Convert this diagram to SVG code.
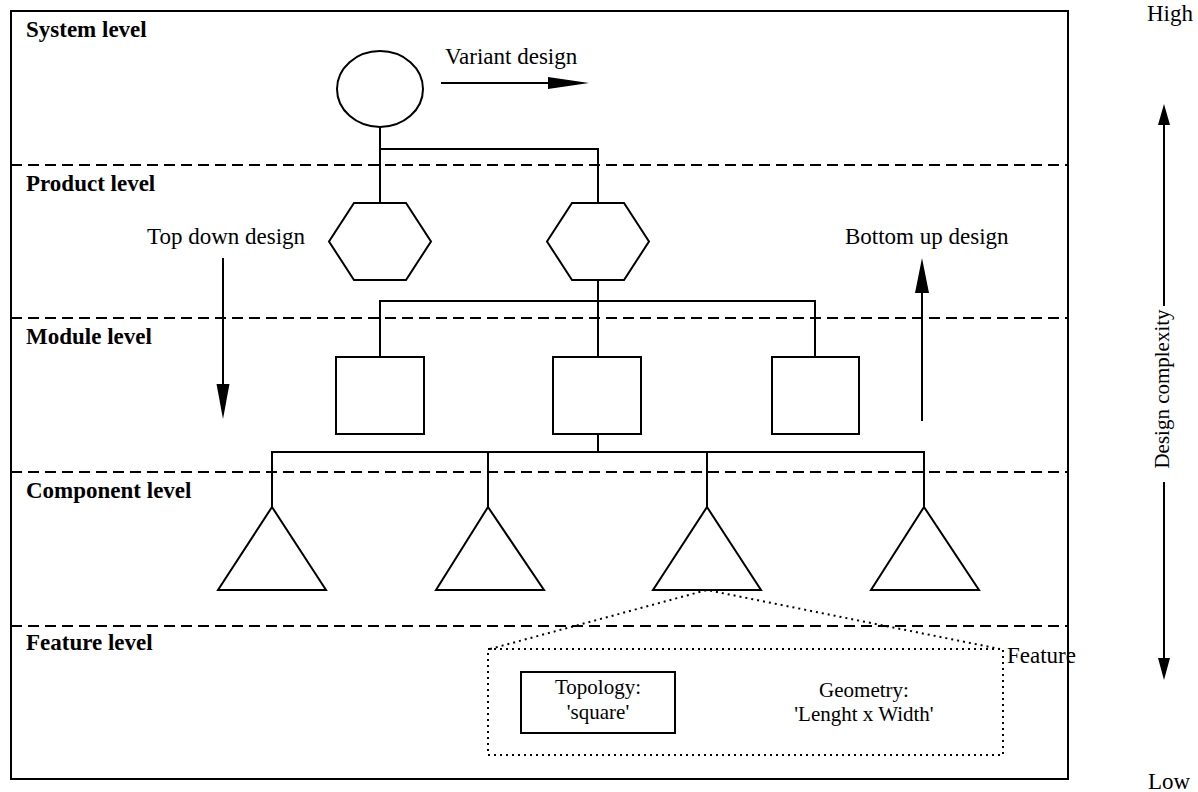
<svg xmlns="http://www.w3.org/2000/svg" width="1198" height="792" viewBox="0 0 1198 792">
<style>
.s{fill:#fff;stroke:#000;stroke-width:2}
.l{fill:none;stroke:#000;stroke-width:2}
.d{fill:none;stroke:#000;stroke-width:2;stroke-dasharray:11 6}
.o{fill:none;stroke:#000;stroke-width:2;stroke-dasharray:2 4}
.h{fill:#000;stroke:none}
.b{font-family:"Liberation Serif",serif;font-weight:bold;font-size:23px;fill:#000}
.t{font-family:"Liberation Serif",serif;font-size:23px;fill:#000}
.m{font-family:"Liberation Serif",serif;font-size:21px;fill:#000}
</style>
<rect id="frame" x="11" y="11" width="1057" height="768" fill="#fff" stroke="#000" stroke-width="2"/>
<g id="levels">
<line class="d" x1="11" y1="165" x2="1068" y2="165"/>
<line class="d" x1="11" y1="318" x2="1068" y2="318"/>
<line class="d" x1="11" y1="472" x2="1068" y2="472"/>
<line class="d" x1="11" y1="626" x2="1068" y2="626"/>
<text class="b" x="26" y="37">System level</text>
<text class="b" x="26" y="191">Product level</text>
<text class="b" x="26" y="344">Module level</text>
<text class="b" x="26" y="498">Component level</text>
<text class="b" x="26" y="650">Feature level</text>
</g>
<g id="connectors">
<polyline class="l" points="380,127 380,203"/>
<polyline class="l" points="380,149 598,149 598,203"/>
<polyline class="l" points="598,280 598,357"/>
<polyline class="l" points="380,357 380,301 815,301 815,357"/>
<polyline class="l" points="598,434 598,452"/>
<polyline class="l" points="272,507 272,452 924,452 924,507"/>
<line class="l" x1="488" y1="452" x2="488" y2="507"/>
<line class="l" x1="707" y1="452" x2="707" y2="507"/>
<polyline class="o" points="490,649 707,590 1000,649"/>
</g>
<g id="system"><ellipse class="s" cx="380" cy="89" rx="43" ry="38"/></g>
<g id="product1"><polygon class="s" points="354,203 406,203 431,241.5 406,280 354,280 329,241.5"/></g>
<g id="product2"><polygon class="s" points="572,203 624,203 649,241.5 624,280 572,280 547,241.5"/></g>
<g id="module1"><rect class="s" x="336" y="357" width="88" height="77"/></g>
<g id="module2"><rect class="s" x="553" y="357" width="88" height="77"/></g>
<g id="module3"><rect class="s" x="772" y="357" width="87" height="77"/></g>
<g id="component1"><polygon class="s" points="272,507 326,590 218,590"/></g>
<g id="component2"><polygon class="s" points="488,507 544,590 436,590"/></g>
<g id="component3"><polygon class="s" points="707,507 761,590 653,590"/></g>
<g id="component4"><polygon class="s" points="924,507 979,590 871,590"/></g>
<g id="variant">
<text class="t" x="445" y="64">Variant design</text>
<line class="l" x1="441" y1="83" x2="550" y2="83"/>
<polygon class="h" points="548,77 589,83 548,89"/>
</g>
<g id="topdown">
<text class="t" x="147" y="244">Top down design</text>
<line class="l" x1="223" y1="258" x2="223" y2="386"/>
<polygon class="h" points="216.5,384 229.5,384 223,419"/>
</g>
<g id="bottomup">
<text class="t" x="845" y="244">Bottom up design</text>
<line class="l" x1="922" y1="421" x2="922" y2="291"/>
<polygon class="h" points="915,293 929,293 922,258"/>
</g>
<g id="complexity">
<text class="t" x="1147" y="21">High</text>
<text class="t" x="1148" y="789">Low</text>
<line class="l" x1="1164" y1="123" x2="1164" y2="306"/>
<polygon class="h" points="1158,125 1170,125 1164,104"/>
<line class="l" x1="1164" y1="482" x2="1164" y2="660"/>
<polygon class="h" points="1158,658 1170,658 1164,680"/>
<text class="m" text-anchor="middle" transform="translate(1169,389) rotate(-90)">Design complexity</text>
</g>
<g id="feature">
<rect class="o" x="488" y="649" width="515" height="106"/>
<text class="t" x="1007" y="663">Feature</text>
</g>
<g id="topology">
<rect class="s" x="521" y="672" width="154" height="61"/>
<text class="m" text-anchor="middle" x="598" y="694">Topology:</text>
<text class="m" text-anchor="middle" x="598" y="719">'square'</text>
</g>
<g id="geometry">
<text class="m" text-anchor="middle" x="864" y="697">Geometry:</text>
<text class="m" text-anchor="middle" x="864" y="721">'Lenght x Width'</text>
</g>
</svg>
